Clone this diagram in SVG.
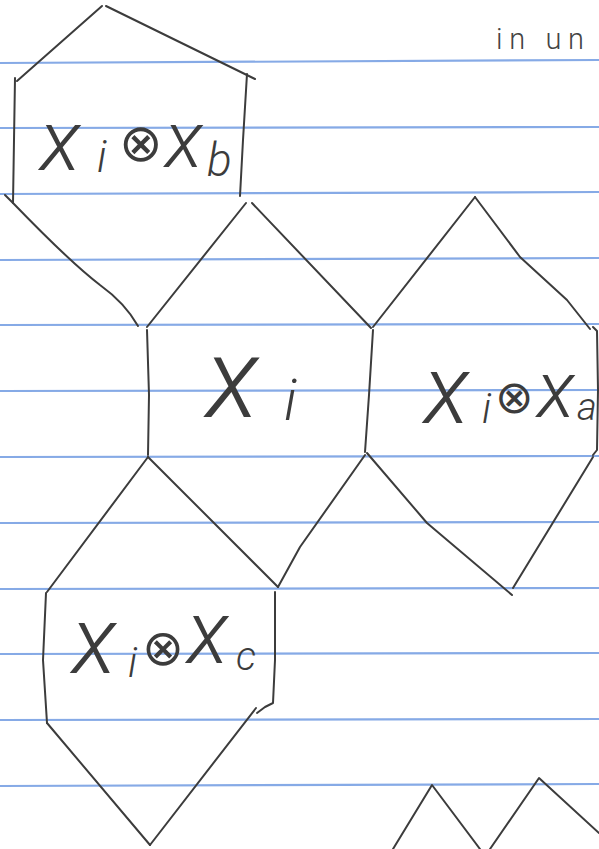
<svg xmlns="http://www.w3.org/2000/svg" width="599" height="849" viewBox="0 0 599 849">
<style>
.rule{stroke:#86aae6;stroke-width:2.2;fill:none}
.ink{stroke:#3c3c3c;stroke-width:2;fill:none;stroke-linecap:round;stroke-linejoin:round}
.lbl{fill:#3c3c3c;font-family:Roboto,"Noto Sans","DejaVu Sans",sans-serif;font-style:italic;font-weight:300}
.op{font-family:"DejaVu Sans",sans-serif;font-style:normal;font-weight:normal}
.note{fill:#444;font-family:Roboto,"Liberation Sans",sans-serif;font-weight:300;font-size:29px}
</style>
<rect width="599" height="849" fill="#ffffff"/>
<g id="paper">
<path class="rule" d="M0,63 L599,60"/>
<path class="rule" d="M0,128 L599,127"/>
<path class="rule" d="M0,194 L599,192"/>
<path class="rule" d="M0,260 L599,258"/>
<path class="rule" d="M0,325 L599,324"/>
<path class="rule" d="M0,391 L599,390"/>
<path class="rule" d="M0,457 L599,456"/>
<path class="rule" d="M0,523 L599,522"/>
<path class="rule" d="M0,589 L599,588"/>
<path class="rule" d="M0,654 L599,653"/>
<path class="rule" d="M0,720 L599,719"/>
<path class="rule" d="M0,786 L599,784"/>
</g>
<text class="note" x="496" y="49" textLength="88" lengthAdjust="spacing">in un</text>
<g id="hex-b">
<path class="ink" d="M17,81 L102,6"/>
<path class="ink" d="M106,6 L255,79"/>
<path class="ink" d="M15,78 L14,140 L13,203"/>
<path class="ink" d="M247,74 L243,140 L240,196"/>
<path class="ink" d="M5,195 L13,203 Q70,262 100,285 Q125,303 138,326"/>
<text class="lbl"><tspan x="40" y="170" font-size="86">x</tspan><tspan x="97" y="172" font-size="44">i</tspan><tspan class="op" x="119" y="161" font-size="52">⊗</tspan><tspan x="165" y="167" font-size="80">x</tspan><tspan x="207" y="176" font-size="46">b</tspan></text>
</g>
<g id="hex-i">
<path class="ink" d="M147,327 L246,203"/>
<path class="ink" d="M252,203 L371,328"/>
<path class="ink" d="M147,330 L149,395 L148,455"/>
<path class="ink" d="M373,330 L369,395 L365,452"/>
<text class="lbl"><tspan x="206" y="417" font-size="112">x</tspan><tspan x="284" y="420" font-size="58">i</tspan></text>
</g>
<g id="hex-a">
<path class="ink" d="M373,327 L475,197"/>
<path class="ink" d="M475,197 L520,257 L567,300 L590,329"/>
<path class="ink" d="M593,327 L597,331 L598,390 L597,450 L593,455"/>
<path class="ink" d="M367,453 L427,523 L512,595"/>
<path class="ink" d="M593,457 L513,588"/>
<text class="lbl"><tspan x="424" y="423" font-size="96">x</tspan><tspan x="482" y="423" font-size="42">i</tspan><tspan class="op" x="495" y="413" font-size="46">⊗</tspan><tspan x="537" y="417" font-size="80">x</tspan><tspan x="577" y="420" font-size="38">a</tspan></text>
</g>
<g id="hex-c">
<path class="ink" d="M148,457 L47,592"/>
<path class="ink" d="M148,457 L278,587"/>
<path class="ink" d="M365,455 L300,547 L278,587"/>
<path class="ink" d="M46,593 L43,660 L47,723"/>
<path class="ink" d="M275,592 L275,660 L273,703 L265,707 L257,713"/>
<path class="ink" d="M47,723 L150,845"/>
<path class="ink" d="M256,708 L150,845"/>
<text class="lbl"><tspan x="72" y="673" font-size="94">x</tspan><tspan x="128" y="677" font-size="42">i</tspan><tspan class="op" x="142" y="665" font-size="50">⊗</tspan><tspan x="187" y="663" font-size="88">x</tspan><tspan x="236" y="670" font-size="40">c</tspan></text>
</g>
<g id="edges">
<path class="ink" d="M393,849 L432,785 L480,849"/>
<path class="ink" d="M490,849 L539,778 L599,833"/>
</g>
</svg>
